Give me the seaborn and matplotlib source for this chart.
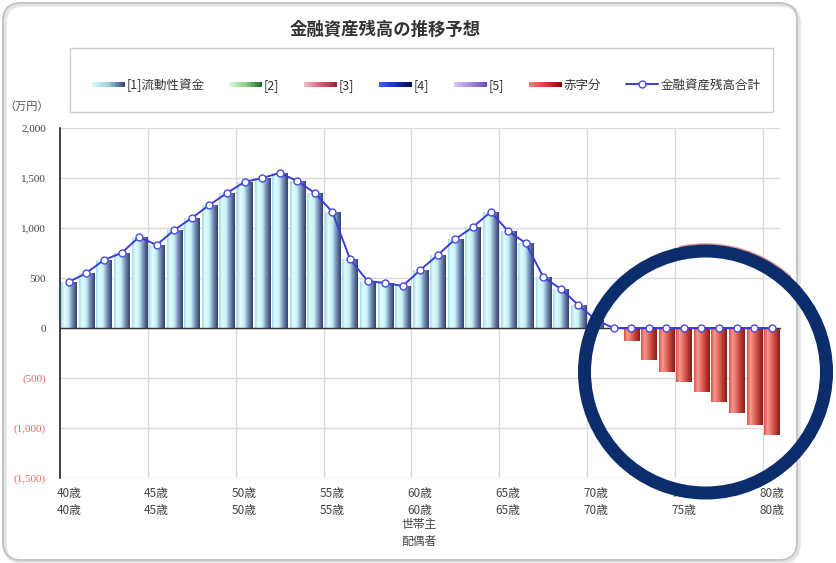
import numpy as np
import pandas as pd
import matplotlib
matplotlib.use("Agg")
import matplotlib.pyplot as plt
import matplotlib.transforms as mtransforms
from matplotlib.colors import LinearSegmentedColormap
from matplotlib.patches import Rectangle, Circle, FancyBboxPatch, Arc
from matplotlib.legend_handler import HandlerBase
from matplotlib.lines import Line2D
import seaborn as sns

# ---- data ---------------------------------------------------------------
ages = list(range(40, 81))
age_labels = [f"{a}歳" for a in ages]

# [1] liquid funds (万円)
liquid = [460, 550, 680, 750, 910, 830, 980, 1100, 1230, 1350,
          1460, 1500, 1550, 1470, 1350, 1160, 690, 470, 450, 420,
          580, 730, 890, 1010, 1160, 970, 850, 510, 390, 230,
          80, 0, 0, 0, 0, 0, 0, 0, 0, 0, 0]

# shortfall (万円)
deficit = [0, 0, 0, 0, 0, 0, 0, 0, 0, 0,
           0, 0, 0, 0, 0, 0, 0, 0, 0, 0,
           0, 0, 0, 0, 0, 0, 0, 0, 0, 0,
           0, 0, -130, -320, -440, -540, -640, -740, -850, -970, -1070]

# total financial assets (万円)
total = [460, 550, 680, 750, 910, 830, 980, 1100, 1230, 1350,
         1460, 1500, 1550, 1470, 1350, 1160, 690, 470, 450, 420,
         580, 730, 890, 1010, 1160, 970, 850, 510, 390, 230,
         80, 0, 0, 0, 0, 0, 0, 0, 0, 0, 0]

label_ages = [40, 45, 50, 55, 60, 65, 70, 75, 80]
y_ticks = [-1500, -1000, -500, 0, 500, 1000, 1500, 2000]
y_tick_labels = ["(1,500)", "(1,000)", "(500)", "0", "500", "1,000", "1,500", "2,000"]

title = "金融資産残高の推移予想"
unit_label = "（万円）"
axis_label = "世帯主\n配偶者"
legend_labels = ["[1]流動性資金", "[2]", "[3]", "[4]", "[5]", "赤字分", "金融資産残高合計"]

# ---- style ---------------------------------------------------------------
sns.set_style("white")
plt.rcParams["font.family"] = ["Noto Sans CJK JP", "DejaVu Sans"]

W, H = 837, 563
fig = plt.figure(figsize=(W / 100, H / 100), dpi=100)
fig.patch.set_facecolor("white")


def fx(px):
    return px / W


def fy(py):
    return 1 - py / H


ax_l, ax_r, ax_t, ax_b = 60, 780.5, 128, 478
ax = fig.add_axes([fx(ax_l), fy(ax_b), (ax_r - ax_l) / W, (ax_b - ax_t) / H])
ax.set_facecolor("white")

df = pd.DataFrame({"age": age_labels, "liquid": liquid,
                   "deficit": deficit, "total": total})

sns.barplot(data=df, x="age", y="liquid", order=age_labels, color="#c6f2f6",
            width=0.86, saturation=1, errorbar=None, ax=ax)
n_liq = len(ax.patches)
sns.barplot(data=df, x="age", y="deficit", order=age_labels, color="#e05a4e",
            width=0.86, saturation=1, errorbar=None, ax=ax)

# horizontal gradient fill on each bar (light left, dark right edge)
cmap_liq = LinearSegmentedColormap.from_list(
    "liq", [(0.0, "#a2dae6"), (0.2, "#e2fdfe"), (0.45, "#c4f0f5"),
            (0.68, "#7c98bd"), (1.0, "#343e6c")])
cmap_def = LinearSegmentedColormap.from_list(
    "def", [(0.0, "#d65448"), (0.22, "#f49b90"), (0.5, "#e2645a"),
            (0.75, "#b53a31"), (1.0, "#86201a")])
grad = np.linspace(0, 1, 64).reshape(1, -1)
for i, p in enumerate(ax.patches):
    h = p.get_height()
    if h == 0:
        continue
    x0, w, y0 = p.get_x(), p.get_width(), p.get_y()
    cmap = cmap_liq if i < n_liq else cmap_def
    im = ax.imshow(grad, extent=[x0, x0 + w, min(y0, y0 + h), max(y0, y0 + h)],
                   aspect="auto", cmap=cmap, zorder=2, interpolation="bilinear")
    im.set_clip_path(p)
    p.set_facecolor("none")
    p.set_edgecolor("none")

sns.lineplot(x=np.arange(len(ages)), y=total, ax=ax, color="#3c3cd8", lw=1.4,
             marker="o", markersize=5, markerfacecolor="white",
             markeredgecolor="#4a4ae0", markeredgewidth=1.0, zorder=4)

# ---- axes ----------------------------------------------------------------
ax.set_xlim(-0.5, len(ages) - 0.5)
ax.set_ylim(-1500, 2000)
ax.set_xlabel("")
ax.set_ylabel("")

ax.set_yticks(y_ticks)
ax.set_yticklabels(y_tick_labels, fontsize=8, family=["Liberation Serif"], color="#444444")
for lbl, v in zip(ax.get_yticklabels(), y_ticks):
    if v < 0:
        lbl.set_color("#e26a6a")

ax.set_xticks(np.arange(4.5, len(ages) - 1, 5))
ax.set_xticklabels([])
ax.spines["bottom"].set_position(("data", 0))
ax.spines["bottom"].set_color("#333333")
ax.spines["bottom"].set_linewidth(1.0)
ax.spines["left"].set_color("#222222")
ax.spines["left"].set_linewidth(1.2)
ax.spines["top"].set_visible(False)
ax.spines["right"].set_visible(False)
ax.tick_params(axis="x", direction="inout", length=5, color="#222222", width=1)
ax.tick_params(axis="y", direction="out", length=3, color="#222222", width=1, pad=7)
ax.grid(True, color="#dadada", lw=1)
ax.set_axisbelow(True)

blend = mtransforms.blended_transform_factory(ax.transData, ax.transAxes)
for a in label_ages:
    ax.text(ages.index(a), -0.026, f"{a}歳\n{a}歳", transform=blend,
            ha="center", va="top", fontsize=8.5, linespacing=1.35, color="#444444")

fig.text(fx(419), fy(518), axis_label, ha="center", va="top",
         fontsize=8.5, linespacing=1.35, color="#444444")
fig.text(fx(27), fy(107), unit_label, ha="center", va="center",
         fontsize=8, color="#555555")
fig.text(fx(385), fy(30), title, ha="center", va="center",
         fontsize=12.5, weight="bold", color="#333333")


# ---- legend --------------------------------------------------------------
class GradSpec:
    def __init__(self, colors):
        self.colors = colors


class GradientHandler(HandlerBase):
    def create_artists(self, legend, orig_handle, xdescent, ydescent,
                       width, height, fontsize, trans):
        cmap = LinearSegmentedColormap.from_list("h", orig_handle.colors)
        n = 24
        bh = height * 0.5
        yb = -ydescent + (height - bh) / 2
        arts = []
        for k in range(n):
            arts.append(Rectangle((-xdescent + width * k / n, yb), width / n + 0.3, bh,
                                  facecolor=cmap((k + 0.5) / n), edgecolor="none",
                                  transform=trans))
        return arts


legend_grads = [
    ["#d8fcfe", "#9ccfe0", "#3a4577"],
    ["#e0f8e0", "#8ad08a", "#1a6e28"],
    ["#f6b8cc", "#d8607a", "#9a1f38"],
    ["#3c5ef0", "#1a32b0", "#000b5c"],
    ["#dcc6f6", "#a88ce0", "#6a4cb8"],
    ["#f28080", "#d84040", "#800c0c"],
]
handles = [GradSpec(c) for c in legend_grads]
handles.append(Line2D([], [], color="#3c3cd8", lw=1.4, marker="o", markersize=5,
                      markerfacecolor="white", markeredgecolor="#4a4ae0"))

fig.add_artist(Rectangle((fx(70), fy(112)), 703 / W, 64 / H, transform=fig.transFigure,
                         fill=False, edgecolor="#cccccc", lw=1))
fig.legend(handles, legend_labels, loc="center", bbox_to_anchor=(fx(426), fy(85)),
           ncol=7, frameon=False, fontsize=9, handlelength=2.6, handletextpad=0.15,
           columnspacing=2.0, borderpad=0, labelcolor="#333333",
           handler_map={GradSpec: GradientHandler()})

# ---- chart frame and highlight ring ---------------------------------------
ident = mtransforms.IdentityTransform()
fig.add_artist(FancyBboxPatch((5, 1), 794, 557, boxstyle="round,pad=0,rounding_size=18",
                              transform=ident, fill=False, edgecolor="#e4e4e4", lw=2.5,
                              zorder=0))
fig.add_artist(FancyBboxPatch((3, 3), 794, 557, boxstyle="round,pad=0,rounding_size=18",
                              transform=ident, fill=False, edgecolor="#c4c4c4", lw=1.4,
                              zorder=1))

cx, cy, r = 705.5, H - 372, 121
fig.add_artist(Arc((cx, cy), 2 * (r + 7), 2 * (r + 7), theta1=48, theta2=102,
                   transform=ident, color="#ee9a9a", lw=1.2, zorder=9))
fig.add_artist(Circle((cx, cy), r, transform=ident, fill=False,
                      edgecolor="#0c2d6c", lw=13 * 72 / 100, zorder=10))

fig.savefig("out.png", dpi=100, facecolor="white")
